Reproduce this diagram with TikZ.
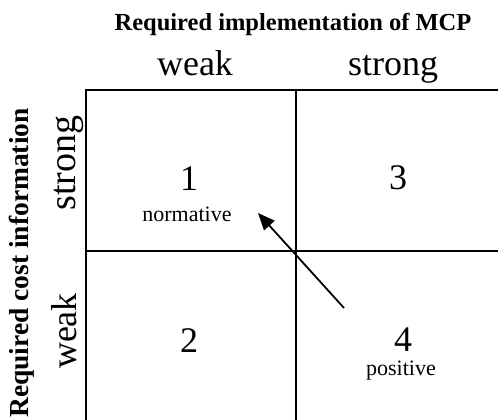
\documentclass[tikz,border=0pt]{standalone}
\usepackage{fontspec}
\setmainfont{Liberation Serif}
\usetikzlibrary{arrows.meta}
\begin{document}
\begin{tikzpicture}[x=1pt,y=-1pt,
  gridline/.style={line width=1.4pt},
  big/.style={font=\fontsize{36}{40}\selectfont, inner sep=0pt, anchor=base},
  small/.style={font=\fontsize{22}{25}\selectfont, inner sep=0pt, anchor=base},
  head/.style={font=\bfseries\fontsize{24.5}{28}\selectfont, inner sep=0pt, anchor=base},
  arr/.style={-{Triangle[length=17pt,width=14pt]}, line width=1.8pt},
]
\useasboundingbox (0,0) rectangle (498,420);
% grid
\coordinate (tl) at (86,90);
\coordinate (tr) at (498,90);
\coordinate (bl) at (86,420);
\coordinate (tm) at (296,90);
\coordinate (bm) at (296,420);
\coordinate (ml) at (86,251);
\coordinate (mr) at (498,251);
\draw[gridline] (tr) -- (tl) -- (bl);
\draw[gridline] (tm) -- (bm);
\draw[gridline] (ml) -- (mr);
% headings
\node[head] (title) at (293,31) {Required implementation of MCP};
\node[head, font=\bfseries\fontsize{27.5}{30}\selectfont, rotate=90] (side) at (28,263) {Required cost information};
\node[big] (colweak) at (195,75) {weak};
\node[big] (colstrong) at (393,75) {strong};
\node[big, font=\fontsize{38}{42}\selectfont, rotate=90] (rowstrong) at (75,163) {strong};
\node[big, rotate=90] (rowweak) at (76,331) {weak};
% cells
\node[big] (c1) at (189,190) {1};
\node[small] (n1) at (187,221) {normative};
\node[big] (c3) at (398,189) {3};
\node[big] (c2) at (189,352) {2};
\node[big] (c4) at (403,351) {4};
\node[small] (n4) at (401,375) {positive};
% arrow
\coordinate (as) at (344,308);
\coordinate (ae) at (258,213);
\draw[arr] (as) -- (ae);
\end{tikzpicture}
\end{document}
